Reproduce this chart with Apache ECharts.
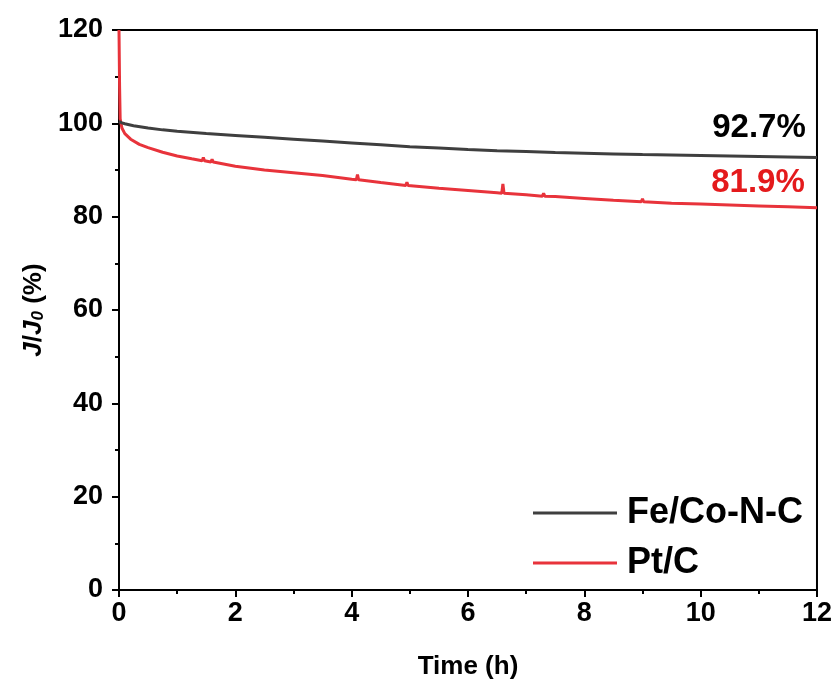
<!DOCTYPE html>
<html>
<head>
<meta charset="utf-8">
<script src="https://cdn.jsdelivr.net/npm/echarts@6/dist/echarts.min.js"></script>
<style>
  html, body { margin: 0; padding: 0; background: #fff; }
  #chart { width: 835px; height: 689px; }
</style>
</head>
<body>
<div id="chart"></div>
<script>
// Chronoamperometric stability: relative current J/J0 (%) vs time (h)
const feCoTime = [0, 0.05, 0.1, 0.25, 0.5, 0.75, 1, 1.5, 2, 2.5, 3, 3.5, 4, 4.5, 5, 5.5, 6, 6.5, 7, 7.5, 8, 8.5, 9, 9.5, 10, 10.5, 11, 11.5, 12];
const feCoVal  = [100.4, 100.1, 99.9, 99.5, 99.0, 98.6, 98.3, 97.8, 97.4, 97.0, 96.6, 96.2, 95.8, 95.4, 95.0, 94.7, 94.4, 94.15, 93.95, 93.75, 93.6, 93.45, 93.3, 93.2, 93.1, 93.0, 92.9, 92.8, 92.7];

const ptTime = [0, 0.01, 0.02, 0.05, 0.1, 0.2, 0.35, 0.5, 0.75, 1, 1.25, 1.43, 1.45, 1.47, 1.5, 1.58, 1.6, 1.62, 2, 2.5, 3, 3.5, 4, 4.08, 4.1, 4.12, 4.5, 4.93, 4.95, 4.97, 5.5, 6, 6.5, 6.58, 6.6, 6.62, 7, 7.28, 7.3, 7.32, 7.5, 8, 8.5, 8.98, 9.0, 9.02, 9.5, 10, 10.5, 11, 11.5, 12];
const ptVal  = [120, 108, 101, 99.0, 97.8, 96.6, 95.5, 94.8, 93.8, 93.0, 92.4, 92.0, 92.7, 92.0, 91.9, 91.7, 92.3, 91.7, 90.8, 90.0, 89.4, 88.8, 88.0, 87.9, 89.0, 87.9, 87.3, 86.7, 87.4, 86.7, 86.1, 85.6, 85.1, 85.0, 87.0, 85.0, 84.7, 84.4, 85.0, 84.4, 84.3, 83.9, 83.5, 83.2, 83.8, 83.2, 82.9, 82.7, 82.5, 82.3, 82.1, 81.9];

const seriesNames = ['Fe/Co-N-C', 'Pt/C'];
const retention = [92.7, 81.9];

const xTicks = { min: 0, max: 12, interval: 2 };
const yTicks = { min: 0, max: 120, interval: 20 };

const zip = (xs, ys) => xs.map((x, i) => [x, ys[i]]);
const FONT = '"Liberation Sans", Arial, sans-serif';

const chart = echarts.init(document.getElementById('chart'), null, { renderer: 'canvas' });

function endNote(value, color, offset) {
  return {
    symbol: 'circle', symbolSize: 0,
    data: [{ coord: [xTicks.max, value] }],
    label: {
      show: true, position: 'inside', offset: offset,
      formatter: value.toFixed(1) + '%',
      color: color, fontSize: 33, fontWeight: 'bold', fontFamily: FONT
    }
  };
}

chart.setOption({
  animation: false,
  backgroundColor: '#fff',
  grid: {
    left: 119, right: 18, top: 30, bottom: 99,
    show: true, borderColor: '#000', borderWidth: 2
  },
  legend: {
    orient: 'vertical', left: 533, top: 492, padding: 0,
    itemWidth: 84, itemHeight: 3, itemGap: 8,
    icon: 'rect',
    textStyle: { fontSize: 36, fontWeight: 'bold', fontFamily: FONT, color: '#000', lineHeight: 42, padding: [0, 0, 0, 5] },
    data: seriesNames
  },
  xAxis: {
    type: 'value', min: xTicks.min, max: xTicks.max, interval: xTicks.interval,
    name: 'Time (h)', nameLocation: 'middle', nameGap: 64,
    nameTextStyle: { fontSize: 26, fontWeight: 'bold', fontFamily: FONT, color: '#000' },
    axisLine: { show: true, lineStyle: { color: '#000', width: 2 } },
    axisTick: { show: true, inside: false, length: 7, lineStyle: { color: '#000', width: 2 } },
    minorTick: { show: true, splitNumber: 2, length: 4, lineStyle: { color: '#000', width: 2 } },
    axisLabel: { fontSize: 27, fontWeight: 'bold', fontFamily: FONT, color: '#000', margin: 10 },
    splitLine: { show: false }
  },
  yAxis: {
    type: 'value', min: yTicks.min, max: yTicks.max, interval: yTicks.interval,
    name: '{i|J}{n|/}{i|J}{s|0}{n| (%)}', nameLocation: 'middle', nameGap: 64, nameRotate: 90,
    nameTextStyle: {
      rich: {
        i: { fontSize: 26, fontWeight: 'bold', fontStyle: 'italic', fontFamily: FONT, color: '#000' },
        n: { fontSize: 26, fontWeight: 'bold', fontFamily: FONT, color: '#000' },
        s: { fontSize: 17, fontWeight: 'bold', fontStyle: 'italic', fontFamily: FONT, color: '#000', verticalAlign: 'bottom', padding: [10, 0, 0, 0] }
      }
    },
    axisLine: { show: true, lineStyle: { color: '#000', width: 2 } },
    axisTick: { show: true, inside: false, length: 7, lineStyle: { color: '#000', width: 2 } },
    minorTick: { show: true, splitNumber: 2, length: 4, lineStyle: { color: '#000', width: 2 } },
    axisLabel: { fontSize: 27, fontWeight: 'bold', fontFamily: FONT, color: '#000', margin: 16 },
    splitLine: { show: false }
  },
  series: [
    {
      name: seriesNames[0], type: 'line', showSymbol: false, symbol: 'none',
      data: zip(feCoTime, feCoVal),
      lineStyle: { color: '#3f3f3f', width: 3 }, itemStyle: { color: '#3f3f3f' },
      markPoint: endNote(retention[0], '#000', [-58, -29]),
      z: 3
    },
    {
      name: seriesNames[1], type: 'line', showSymbol: false, symbol: 'none',
      data: zip(ptTime, ptVal),
      lineStyle: { color: '#e8333b', width: 3 }, itemStyle: { color: '#e8333b' },
      markPoint: endNote(retention[1], '#e41a1c', [-59, -25]),
      z: 2
    }
  ]
});
</script>
</body>
</html>
